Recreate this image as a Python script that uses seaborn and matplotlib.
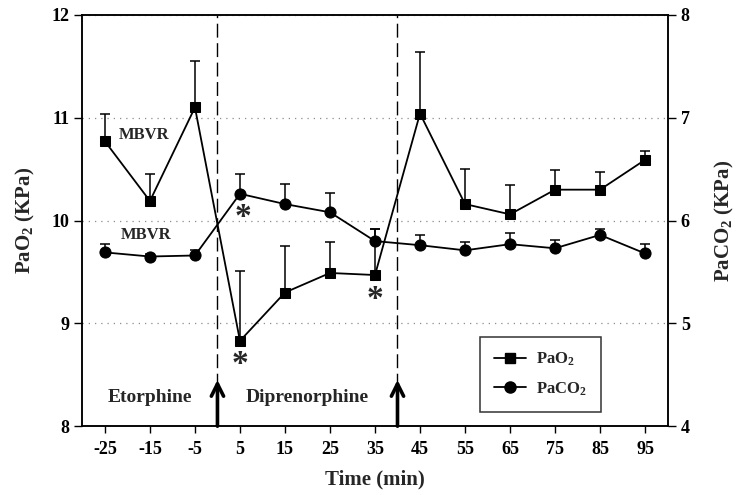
import matplotlib
matplotlib.use("Agg")
import matplotlib.pyplot as plt
import numpy as np
import pandas as pd
import seaborn as sns
from matplotlib.lines import Line2D

# values
time_min = [-25, -15, -5, 5, 15, 25, 35, 45, 55, 65, 75, 85, 95]
pao2 = [10.77, 10.19, 11.10, 8.83, 9.30, 9.49, 9.47, 11.04, 10.16, 10.06, 10.30, 10.30, 10.59]
pao2_upper = [11.04, 10.45, 11.55, 9.51, 9.75, 9.79, 9.92, 11.64, 10.50, 10.35, 10.49, 10.47, 10.68]
paco2 = [5.69, 5.65, 5.66, 6.26, 6.16, 6.08, 5.80, 5.76, 5.71, 5.77, 5.73, 5.86, 5.68]
paco2_upper = [5.77, 5.67, 5.71, 6.45, 6.36, 6.27, 5.92, 5.86, 5.79, 5.88, 5.81, 5.92, 5.77]

left_ticks = [8, 9, 10, 11, 12]
right_ticks = [4, 5, 6, 7, 8]
injections = [0, 40]


def main():
    sns.set_style("ticks")
    plt.rcParams["font.family"] = ["Liberation Serif", "DejaVu Serif"]
    plt.rcParams["font.weight"] = "bold"
    plt.rcParams["mathtext.fontset"] = "custom"
    plt.rcParams["mathtext.rm"] = "Liberation Serif:bold"
    plt.rcParams["mathtext.it"] = "Liberation Serif:bold"
    plt.rcParams["mathtext.bf"] = "Liberation Serif:bold"

    df = pd.DataFrame({
        "time": time_min,
        "pao2": pao2,
        "pao2_err": np.array(pao2_upper) - np.array(pao2),
        "paco2": paco2,
        "paco2_err": np.array(paco2_upper) - np.array(paco2),
    })

    fig = plt.figure(figsize=(7.36, 4.95), dpi=100)
    ax = fig.add_axes([0.112, 0.139, 0.795, 0.831])
    ax2 = ax.twinx()

    # PaO2 on the left axis
    ax.errorbar(df["time"], df["pao2"], yerr=[np.zeros(len(df)), df["pao2_err"]],
                fmt="none", ecolor="black", elinewidth=1.1, capsize=3.5, capthick=1.1)
    sns.lineplot(data=df, x="time", y="pao2", ax=ax, color="black", marker="s",
                 markersize=7, markeredgecolor="black", linewidth=1.3)

    # PaCO2 on the right axis
    ax2.errorbar(df["time"], df["paco2"], yerr=[np.zeros(len(df)), df["paco2_err"]],
                 fmt="none", ecolor="black", elinewidth=1.1, capsize=3.5, capthick=1.1)
    sns.lineplot(data=df, x="time", y="paco2", ax=ax2, color="black", marker="o",
                 markersize=8, markeredgecolor="black", linewidth=1.3)

    ax.set_xlim(-30, 100)
    ax.set_ylim(8, 12)
    ax2.set_ylim(4, 8)
    ax.set_xticks(time_min)
    ax.set_xticklabels([str(t) for t in time_min])
    ax.set_yticks(left_ticks)
    ax2.set_yticks(right_ticks)

    ax.yaxis.grid(True, linestyle=(0, (1, 4)), color="0.55", linewidth=0.9)
    ax.set_axisbelow(True)

    for a in (ax, ax2):
        for s in a.spines.values():
            s.set_color("black")
            s.set_linewidth(1.1)
            s.set_visible(True)
        a.tick_params(axis="both", direction="out", length=6, width=1, labelsize=13, colors="black")
    ax.tick_params(axis="x", length=5, pad=6)

    ax.set_xlabel("Time (min)", fontsize=15, fontweight="bold", labelpad=8)
    ax.set_ylabel("PaO$_\\mathrm{2}$ (KPa)", fontsize=15, fontweight="bold", labelpad=10)
    ax2.set_ylabel("PaCO$_\\mathrm{2}$ (KPa)", fontsize=15, fontweight="bold", labelpad=17)

    # injection markers
    for t in injections:
        ax.axvline(t, color="black", linestyle=(0, (10, 4)), linewidth=1)
        ax.annotate("", xy=(t, 8.45), xytext=(t, 8.0),
                    arrowprops=dict(arrowstyle="->", lw=2.6, color="black", mutation_scale=22,
                                    shrinkA=0, shrinkB=0))

    ax.text(-15, 8.28, "Etorphine", fontsize=14, fontweight="bold", ha="center", va="center")
    ax.text(20, 8.28, "Diprenorphine", fontsize=14, fontweight="bold", ha="center", va="center")
    ax.text(-16.3, 10.83, "MBVR", fontsize=12, fontweight="bold", ha="center", va="center")
    ax.text(-15.9, 9.86, "MBVR", fontsize=12, fontweight="bold", ha="center", va="center")

    # significance marks
    ax.text(5.7, 10.03, "*", fontsize=24, fontweight="bold", ha="center", va="center")
    ax.text(5, 8.6, "*", fontsize=24, fontweight="bold", ha="center", va="center")
    ax.text(35, 9.23, "*", fontsize=24, fontweight="bold", ha="center", va="center")

    handles = [
        Line2D([], [], color="black", marker="s", markersize=7, linewidth=1.3),
        Line2D([], [], color="black", marker="o", markersize=8, linewidth=1.3),
    ]
    leg = ax2.legend(handles, ["PaO$_\\mathrm{2}$", "PaCO$_\\mathrm{2}$"], loc="upper left",
                     bbox_to_anchor=(0.679, 0.217), borderaxespad=0, fancybox=False,
                     frameon=True, edgecolor="black", fontsize=12, handlelength=1.9,
                     handletextpad=0.6, borderpad=0.85, labelspacing=0.7)
    leg.get_frame().set_linewidth(1.1)
    for txt in leg.get_texts():
        txt.set_fontweight("bold")

    fig.savefig("out.png", dpi=100)
    plt.close(fig)


if __name__ == "__main__":
    main()
